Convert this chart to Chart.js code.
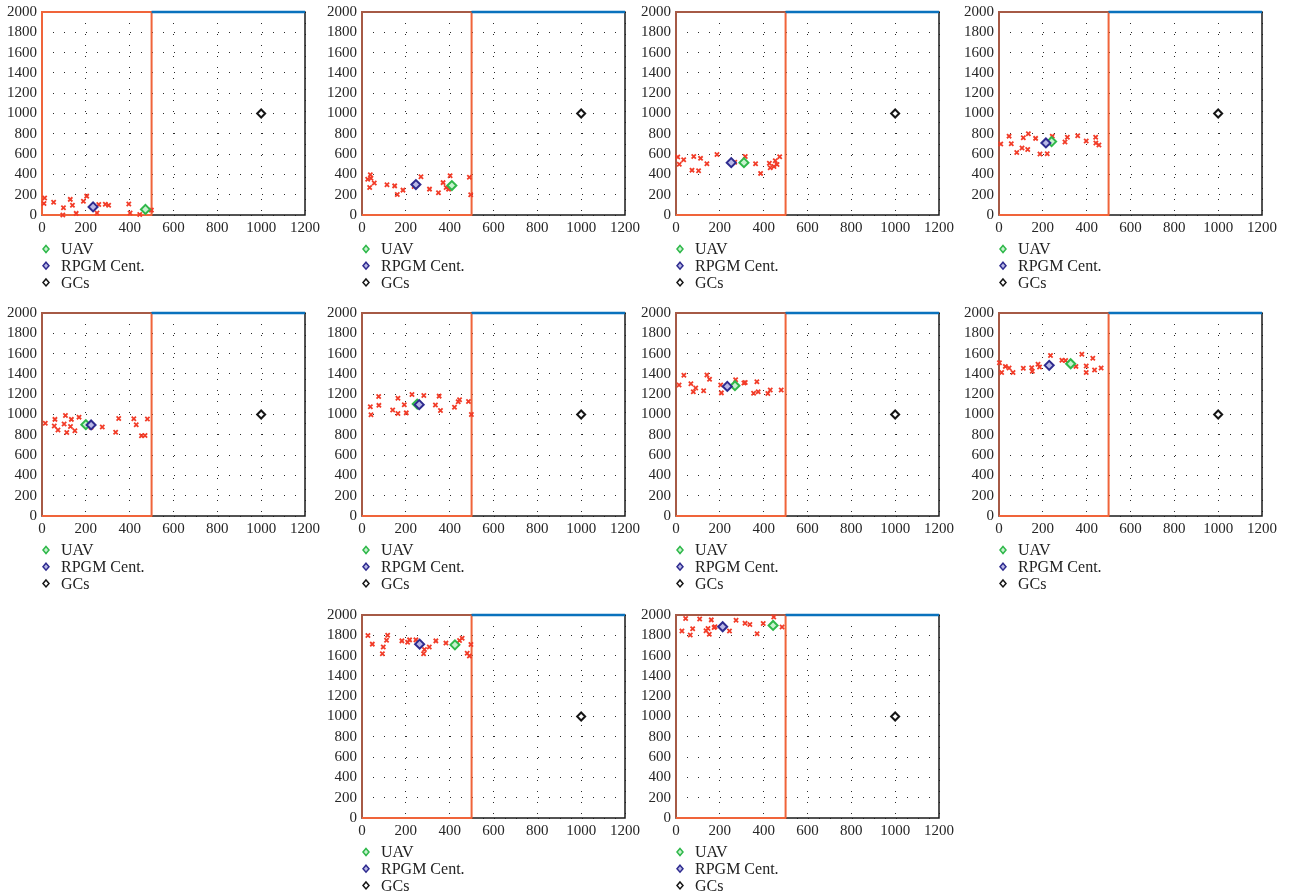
<!DOCTYPE html>
<html>
<head>
<meta charset="utf-8">
<script src="https://cdn.jsdelivr.net/npm/chart.js@4.4.1/dist/chart.umd.min.js"></script>
<style>
  html, body { margin: 0; padding: 0; background: #fff; overflow: hidden; }
  #wrap { position: relative; width: 1294px; height: 896px; }
  canvas { position: absolute; }
</style>
</head>
<body>
<div id="wrap"></div>
<script>
// axes
const xTicks = [0, 200, 400, 600, 800, 1000, 1200];
const yTicks = [0, 200, 400, 600, 800, 1000, 1200, 1400, 1600, 1800, 2000];

// coverage zone (orange box) and the blue top edge
const zoneX = [0, 0, 500, 500, 0];
const zoneY = [0, 2000, 2000, 0, 0];
const coverX = [500, 1200];
const coverY = [2000, 2000];

// ground control station
const gcsPos = [1000, 1000];

// UAV and RPGM centre, one per frame
const uavPos = [[472, 55], [410, 290], [310, 516], [240, 723], [200, 900],
  [252, 1103], [269, 1284], [327, 1500], [424, 1706], [443, 1897]];
const rpgmPos = [[233, 80], [246, 300], [252, 516], [214, 710], [224, 897],
  [261, 1097], [234, 1277], [229, 1484], [263, 1713], [213, 1884]];

// ground nodes, one list per frame
const swarm1 = [[9, 113], [12, 167], [53, 125], [98, 71], [95, 0], [129, 154], [139, 96], [156, 16], [189, 135],
  [204, 186], [251, 19], [259, 103], [289, 106], [304, 96], [396, 109], [402, 19], [446, 6], [499, 48]];
const swarm2 = [[26, 352], [38, 397], [41, 361], [35, 271], [56, 316], [114, 297], [149, 287], [161, 203], [187, 245],
  [238, 281], [269, 377], [308, 255], [349, 219], [370, 319], [384, 271], [395, 255], [402, 387], [490, 371], [496, 200]];
const swarm3 = [[8, 571], [15, 500], [35, 545], [73, 442], [81, 577], [103, 435], [112, 558], [141, 506], [187, 597],
  [268, 519], [316, 577], [363, 506], [386, 410], [426, 510], [430, 465], [447, 477], [453, 535], [461, 497], [473, 574]];
const swarm4 = [[8, 700], [46, 777], [56, 703], [81, 616], [105, 661], [111, 761], [131, 645], [134, 800], [167, 755],
  [187, 600], [220, 603], [243, 777], [301, 719], [312, 765], [359, 781], [398, 729], [441, 765], [442, 710], [456, 690]];
const swarm5 = [[15, 913], [59, 952], [56, 887], [73, 848], [101, 906], [107, 990], [113, 823], [130, 881], [134, 952],
  [150, 839], [169, 974], [224, 874], [275, 877], [336, 826], [350, 961], [419, 958], [430, 900], [454, 790], [470, 794], [481, 955]];
const swarm6 = [[38, 1077], [41, 997], [76, 1177], [77, 1090], [140, 1045], [164, 1161], [164, 1010], [193, 1097], [202, 1016],
  [228, 1197], [282, 1187], [335, 1094], [352, 1181], [358, 1039], [422, 1071], [439, 1126], [445, 1145], [486, 1129], [499, 1000]];
const swarm7 = [[14, 1290], [36, 1387], [68, 1303], [79, 1223], [90, 1261], [126, 1235], [141, 1390], [153, 1348], [204, 1290],
  [207, 1213], [272, 1342], [310, 1310], [316, 1316], [354, 1210], [369, 1323], [375, 1223], [419, 1206], [430, 1242], [480, 1242]];
const swarm8 = [[2, 1510], [12, 1413], [29, 1474], [46, 1458], [64, 1413], [111, 1455], [149, 1461], [152, 1426], [178, 1494],
  [185, 1468], [235, 1581], [287, 1535], [304, 1532], [351, 1474], [378, 1594], [398, 1477], [398, 1413], [428, 1555], [436, 1439], [466, 1458]];
const swarm9 = [[27, 1797], [47, 1713], [93, 1619], [97, 1684], [112, 1752], [117, 1800], [182, 1745], [208, 1732], [217, 1755],
  [246, 1755], [281, 1619], [285, 1661], [307, 1684], [337, 1745], [383, 1723], [445, 1748], [457, 1771], [480, 1623], [490, 1597], [497, 1710]];
const swarm10 = [[27, 1842], [44, 1965], [65, 1803], [76, 1865], [108, 1961], [137, 1845], [146, 1868], [152, 1810], [161, 1952],
  [174, 1877], [178, 1884], [244, 1842], [274, 1948], [315, 1919], [337, 1906], [370, 1816], [398, 1916], [446, 1981], [484, 1881]];
const swarms = [swarm1, swarm2, swarm3, swarm4, swarm5, swarm6, swarm7, swarm8, swarm9, swarm10];

const legendLabels = ['UAV', 'RPGM Cent.', 'GCs'];

// page layout
const colLeft = [42, 362, 676, 999];
const rowTop = [8, 309, 611];
const slots = [[0, 0], [0, 1], [0, 2], [0, 3], [1, 0], [1, 1], [1, 2], [1, 3], [2, 1], [2, 2]];
const plotW = 263, plotH = 207, padTop = 10, padRight = 22, yAxisW = 42, xAxisH = 85;

const zoneColor = '#f0643a';
const zoneEdge = '#a65a46';
const coverColor = '#0a72bd';
const swarmColor = '#f23c28';
const uavColor = '#2fb84a', uavFill = '#c8f2cf';
const rpgmColor = '#2e2b8f', rpgmFill = '#b9b8e6';
const gcsColor = '#151515', gcsFill = '#ffffff';
const tickFont = { family: '"Liberation Serif", "Times New Roman", serif', size: 15 };

const toPts = arr => arr.map(p => ({ x: p[0], y: p[1] }));

const framePlugin = {
  id: 'frame',
  beforeDatasetsDraw(chart) {
    const { ctx, chartArea: a } = chart;
    ctx.save();
    ctx.setLineDash([]);
    ctx.strokeStyle = '#1a1a1a';
    ctx.lineWidth = 1.5;
    ctx.strokeRect(a.left, a.top, a.right - a.left, a.bottom - a.top);
    ctx.restore();
  }
};

const legendMarks = [[uavColor, uavFill], [rpgmColor, rpgmFill], [gcsColor, gcsFill]];
const stackLegend = {
  id: 'stackLegend',
  afterDraw(chart) {
    const { ctx, chartArea: a } = chart;
    ctx.save();
    ctx.font = '16px "Liberation Serif", "Times New Roman", serif';
    ctx.textBaseline = 'middle';
    legendLabels.forEach((txt, k) => {
      const x = a.left + 4;
      const y = a.bottom + 34 + k * 16.7;
      ctx.beginPath();
      ctx.moveTo(x, y - 3.5);
      ctx.lineTo(x + 3, y);
      ctx.lineTo(x, y + 3.5);
      ctx.lineTo(x - 3, y);
      ctx.closePath();
      ctx.fillStyle = legendMarks[k][1];
      ctx.fill();
      ctx.lineWidth = 1.5;
      ctx.strokeStyle = legendMarks[k][0];
      ctx.stroke();
      ctx.fillStyle = '#222';
      ctx.fillText(txt, a.left + 19, y + 1);
    });
    ctx.restore();
  }
};

const wrap = document.getElementById('wrap');

slots.forEach((slot, i) => {
  const cv = document.createElement('canvas');
  const w = yAxisW + plotW + padRight, h = padTop + plotH + xAxisH;
  cv.width = w; cv.height = h;
  cv.style.left = (colLeft[slot[1]] - yAxisW) + 'px';
  cv.style.top = (rowTop[slot[0]] - padTop) + 'px';
  wrap.appendChild(cv);

  const edge = i === 0 ? zoneColor : zoneEdge;

  new Chart(cv.getContext('2d'), {
    type: 'scatter',
    data: {
      datasets: [
        {
          label: 'zone',
          data: zoneX.map((x, k) => ({ x, y: zoneY[k] })),
          showLine: true,
          borderColor: zoneColor,
          borderWidth: 2,
          pointRadius: 0,
          segment: { borderColor: c => (c.p0DataIndex < 2 ? edge : zoneColor) },
          clip: false,
          order: 6
        },
        {
          label: 'cover',
          data: coverX.map((x, k) => ({ x, y: coverY[k] })),
          showLine: true,
          borderColor: coverColor,
          borderWidth: 2.5,
          pointRadius: 0,
          clip: false,
          order: 5
        },
        {
          label: 'nodes',
          data: toPts(swarms[i]),
          pointStyle: 'crossRot',
          pointRadius: 3,
          borderWidth: 1.8,
          borderColor: swarmColor,
          clip: false,
          order: 4
        },
        {
          label: legendLabels[0],
          data: toPts([uavPos[i]]),
          pointStyle: 'rectRot',
          pointRadius: 4.5,
          borderWidth: 2,
          borderColor: uavColor,
          backgroundColor: uavFill,
          clip: false,
          order: 2
        },
        {
          label: legendLabels[1],
          data: toPts([rpgmPos[i]]),
          pointStyle: 'rectRot',
          pointRadius: 4.5,
          borderWidth: 2,
          borderColor: rpgmColor,
          backgroundColor: rpgmFill,
          clip: false,
          order: 1
        },
        {
          label: legendLabels[2],
          data: toPts([gcsPos]),
          pointStyle: 'rectRot',
          pointRadius: 4,
          borderWidth: 2,
          borderColor: gcsColor,
          backgroundColor: gcsFill,
          clip: false,
          order: 1
        }
      ]
    },
    options: {
      responsive: false,
      animation: false,
      events: [],
      layout: { autoPadding: false, padding: { top: padTop, right: padRight, left: 0, bottom: 0 } },
      plugins: { legend: { display: false }, tooltip: { enabled: false } },
      scales: {
        x: {
          type: 'linear',
          min: 0,
          max: 1200,
          afterBuildTicks: s => { s.ticks = xTicks.map(v => ({ value: v })); },
          afterFit: s => { s.height = xAxisH; },
          ticks: { font: tickFont, color: '#262626', padding: 4, maxRotation: 0, autoSkip: false, callback: v => String(v) },
          grid: { color: '#2a2a2a', lineWidth: 1, drawTicks: false },
          border: { display: false, dash: [1, 10] }
        },
        y: {
          type: 'linear',
          min: 0,
          max: 2000,
          afterBuildTicks: s => { s.ticks = yTicks.map(v => ({ value: v })); },
          afterFit: s => { s.width = yAxisW; },
          ticks: { font: tickFont, color: '#262626', padding: 5, autoSkip: false, callback: v => String(v) },
          grid: { color: '#2a2a2a', lineWidth: 1, drawTicks: false },
          border: { display: false, dash: [1, 10] }
        }
      }
    },
    plugins: [framePlugin, stackLegend]
  });
});
</script>
</body>
</html>
